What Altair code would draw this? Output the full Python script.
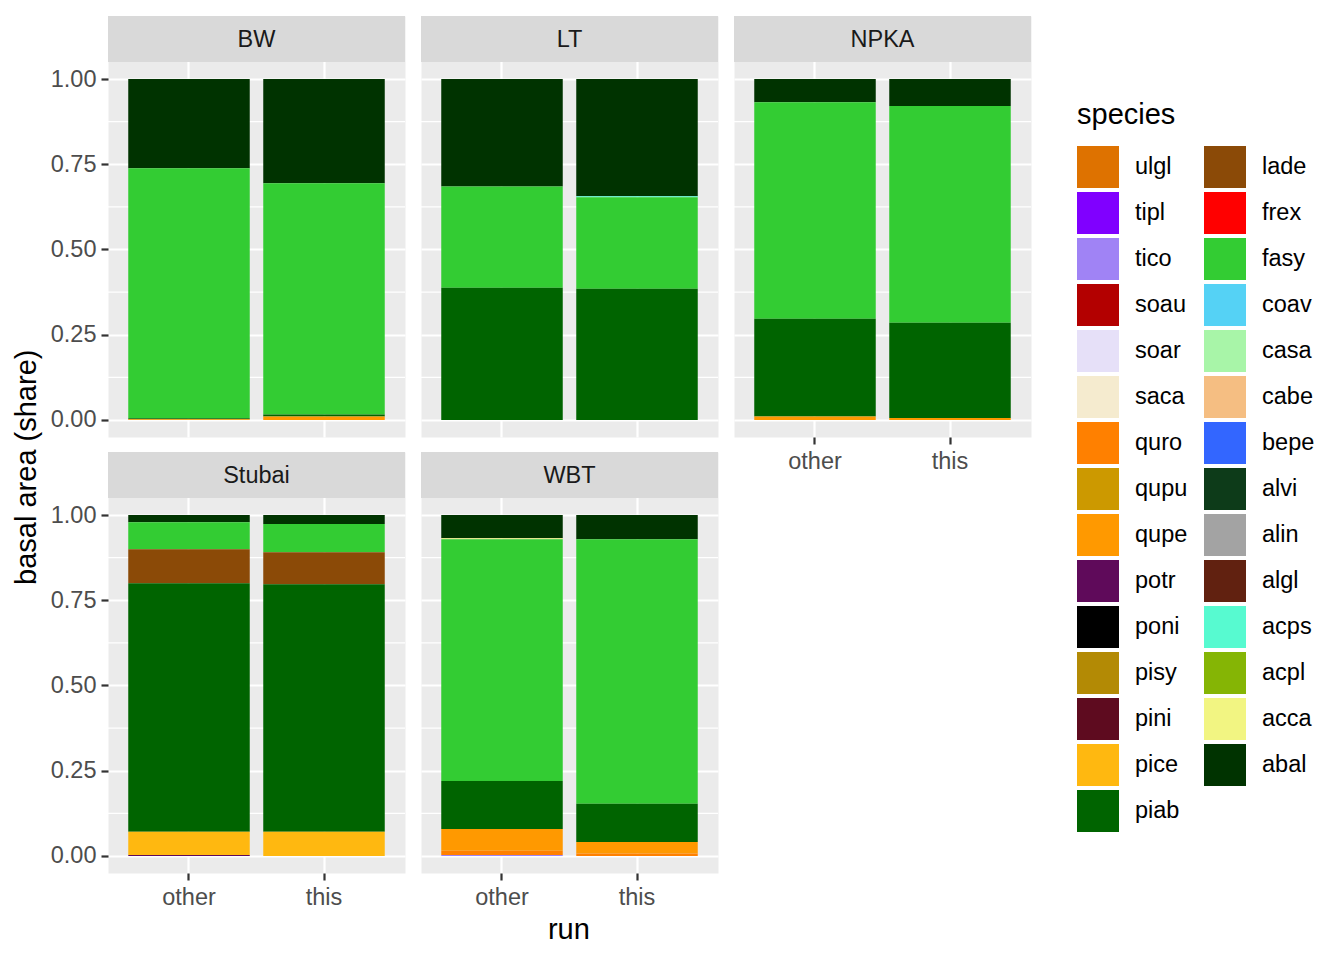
import altair as alt
import pandas as pd

# Species in legend order (two columns of 15 and 14) and their colours
species = ["ulgl", "tipl", "tico", "soau", "soar", "saca", "quro", "qupu", "qupe",
           "potr", "poni", "pisy", "pini", "pice", "piab",
           "lade", "frex", "fasy", "coav", "casa", "cabe", "bepe", "alvi", "alin",
           "algl", "acps", "acpl", "acca", "abal"]
colors = ["#DE7200", "#8000FF", "#A083F5", "#B30000", "#E6E0F8", "#F5EBCF", "#FF8000",
          "#CC9900", "#FF9900", "#5F0A5A", "#000000", "#B38A05", "#5E0B1F", "#FFB810",
          "#006400",
          "#8B4A07", "#FF0000", "#33CC33", "#55D2F5", "#A8F5A8", "#F5BE82", "#3366FF",
          "#0D3B19", "#A3A3A3", "#612110", "#57FAD0", "#85B505", "#F2F582", "#003300"]

sites = ["BW", "LT", "NPKA", "Stubai", "WBT"]
runs = ["other", "this"]

# Basal area share per species, for the runs "other" and "this"
bw_species = ["abal", "fasy", "piab", "qupe"]
bw_other = [0.262, 0.733, 0.003, 0.002]
bw_this = [0.306, 0.678, 0.006, 0.010]

lt_species = ["abal", "acps", "fasy", "piab"]
lt_other = [0.315, 0.000, 0.297, 0.388]
lt_this = [0.344, 0.003, 0.268, 0.385]

npka_species = ["abal", "fasy", "piab", "qupe"]
npka_other = [0.068, 0.635, 0.287, 0.010]
npka_this = [0.079, 0.636, 0.279, 0.006]

stubai_species = ["abal", "fasy", "lade", "piab", "pice", "potr"]
stubai_other = [0.021, 0.079, 0.100, 0.729, 0.068, 0.003]
stubai_this = [0.026, 0.083, 0.094, 0.726, 0.071, 0.000]

wbt_species = ["abal", "acca", "fasy", "piab", "qupe", "quro", "tico"]
wbt_other = [0.068, 0.003, 0.709, 0.141, 0.064, 0.012, 0.003]
wbt_this = [0.071, 0.000, 0.776, 0.112, 0.034, 0.007, 0.000]

site_data = {
    "BW": (bw_species, bw_other, bw_this),
    "LT": (lt_species, lt_other, lt_this),
    "NPKA": (npka_species, npka_other, npka_this),
    "Stubai": (stubai_species, stubai_other, stubai_this),
    "WBT": (wbt_species, wbt_other, wbt_this),
}

rows = []
for site, (sp, oth, ths) in site_data.items():
    for run, vals in zip(runs, (oth, ths)):
        for s, v in zip(sp, vals):
            if v > 0:
                rows.append({"site": site, "run": run, "species": s, "share": v,
                             "rank": species.index(s)})
df = pd.DataFrame(rows)

FONT = "Liberation Sans"
W, H_PANEL, H_STRIP = 297, 375, 46
H = H_PANEL + H_STRIP
# the strip sits inside the view, above the data range
Y_TOP = 1.05 + 1.1 * H_STRIP / H_PANEL
minor_grid = [0.125, 0.375, 0.625, 0.875]
major_ticks = [0, 0.25, 0.5, 0.75, 1.0]

y_scale = alt.Scale(domain=[-0.05, Y_TOP], nice=False, zero=False)
x_scale = alt.Scale(domain=runs, paddingInner=0.1, paddingOuter=0.15)
color_scale = alt.Scale(domain=species, range=colors)

legend = alt.Legend(
    title="species", columns=2, orient="none", legendX=969, legendY=85,
    symbolType="square", symbolSize=1764, symbolStrokeWidth=0, symbolOpacity=1,
    labelFont=FONT, labelFontSize=23.5, labelColor="#000000", labelOffset=16,
    titleFont=FONT, titleFontSize=29, titleColor="#000000", titleFontWeight="normal",
    titlePadding=16, rowPadding=4, columnPadding=16, padding=0, labelLimit=200,
)


def panel(site, show_y, show_x):
    yaxis = alt.Axis(values=major_ticks, format=".2f", grid=True, labels=show_y,
                     ticks=show_y, domain=False, title=None)
    xaxis = alt.Axis(labels=show_x, ticks=show_x, domain=False, title=None, grid=True,
                     bandPosition=0.5, labelAngle=0)
    minor = alt.Chart(pd.DataFrame({"share": minor_grid})).mark_rule(
        color="white", strokeWidth=1.1
    ).encode(y=alt.Y("share:Q", scale=y_scale, axis=yaxis, stack=None))
    bars = alt.Chart(df[df.site == site]).mark_bar(strokeWidth=0).encode(
        x=alt.X("run:N", scale=x_scale, axis=xaxis),
        y=alt.Y("share:Q", stack="zero", scale=y_scale, axis=yaxis),
        color=alt.Color("species:N", scale=color_scale, legend=legend),
        order=alt.Order("rank:Q", sort="ascending"),
    )
    strip_df = pd.DataFrame({"site": [site]})
    strip = alt.Chart(strip_df).mark_rect(fill="#D9D9D9", strokeWidth=0).encode(
        x=alt.value(0), x2=alt.value(W), y=alt.value(0), y2=alt.value(H_STRIP))
    label = alt.Chart(strip_df).mark_text(
        font=FONT, fontSize=23.5, color="#1A1A1A", baseline="middle", align="center"
    ).encode(x=alt.value(W / 2), y=alt.value(H_STRIP / 2 + 1), text="site:N")
    return alt.layer(minor, bars, strip, label).properties(width=W, height=H)


grid = alt.concat(
    panel("BW", True, False), panel("LT", False, False), panel("NPKA", False, True),
    panel("Stubai", True, True), panel("WBT", False, True),
    columns=3, spacing={"row": 15, "column": 16}, bounds="flush",
).properties(
    title=alt.TitleParams("run", orient="bottom", anchor="middle", font=FONT,
                          fontSize=29, fontWeight="normal", color="#000000",
                          offset=7, dx=28)
)

chart = alt.hconcat(grid).properties(
    title=alt.TitleParams("basal area (share)", orient="left", anchor="middle", font=FONT,
                          fontSize=29, fontWeight="normal", color="#000000",
                          offset=8, dx=13),
    padding={"left": 12, "top": 15, "right": 0, "bottom": 0},
    background="white",
).configure_view(
    fill="#EBEBEB", stroke="transparent"
).configure_axis(
    gridColor="white", gridWidth=2.2, labelFont=FONT, labelFontSize=23.5,
    labelColor="#4D4D4D", tickColor="#333333", tickSize=7, tickWidth=2.2,
    labelPadding=5
)

chart.save("out.html", embed_options={"renderer": "svg", "actions": False})
